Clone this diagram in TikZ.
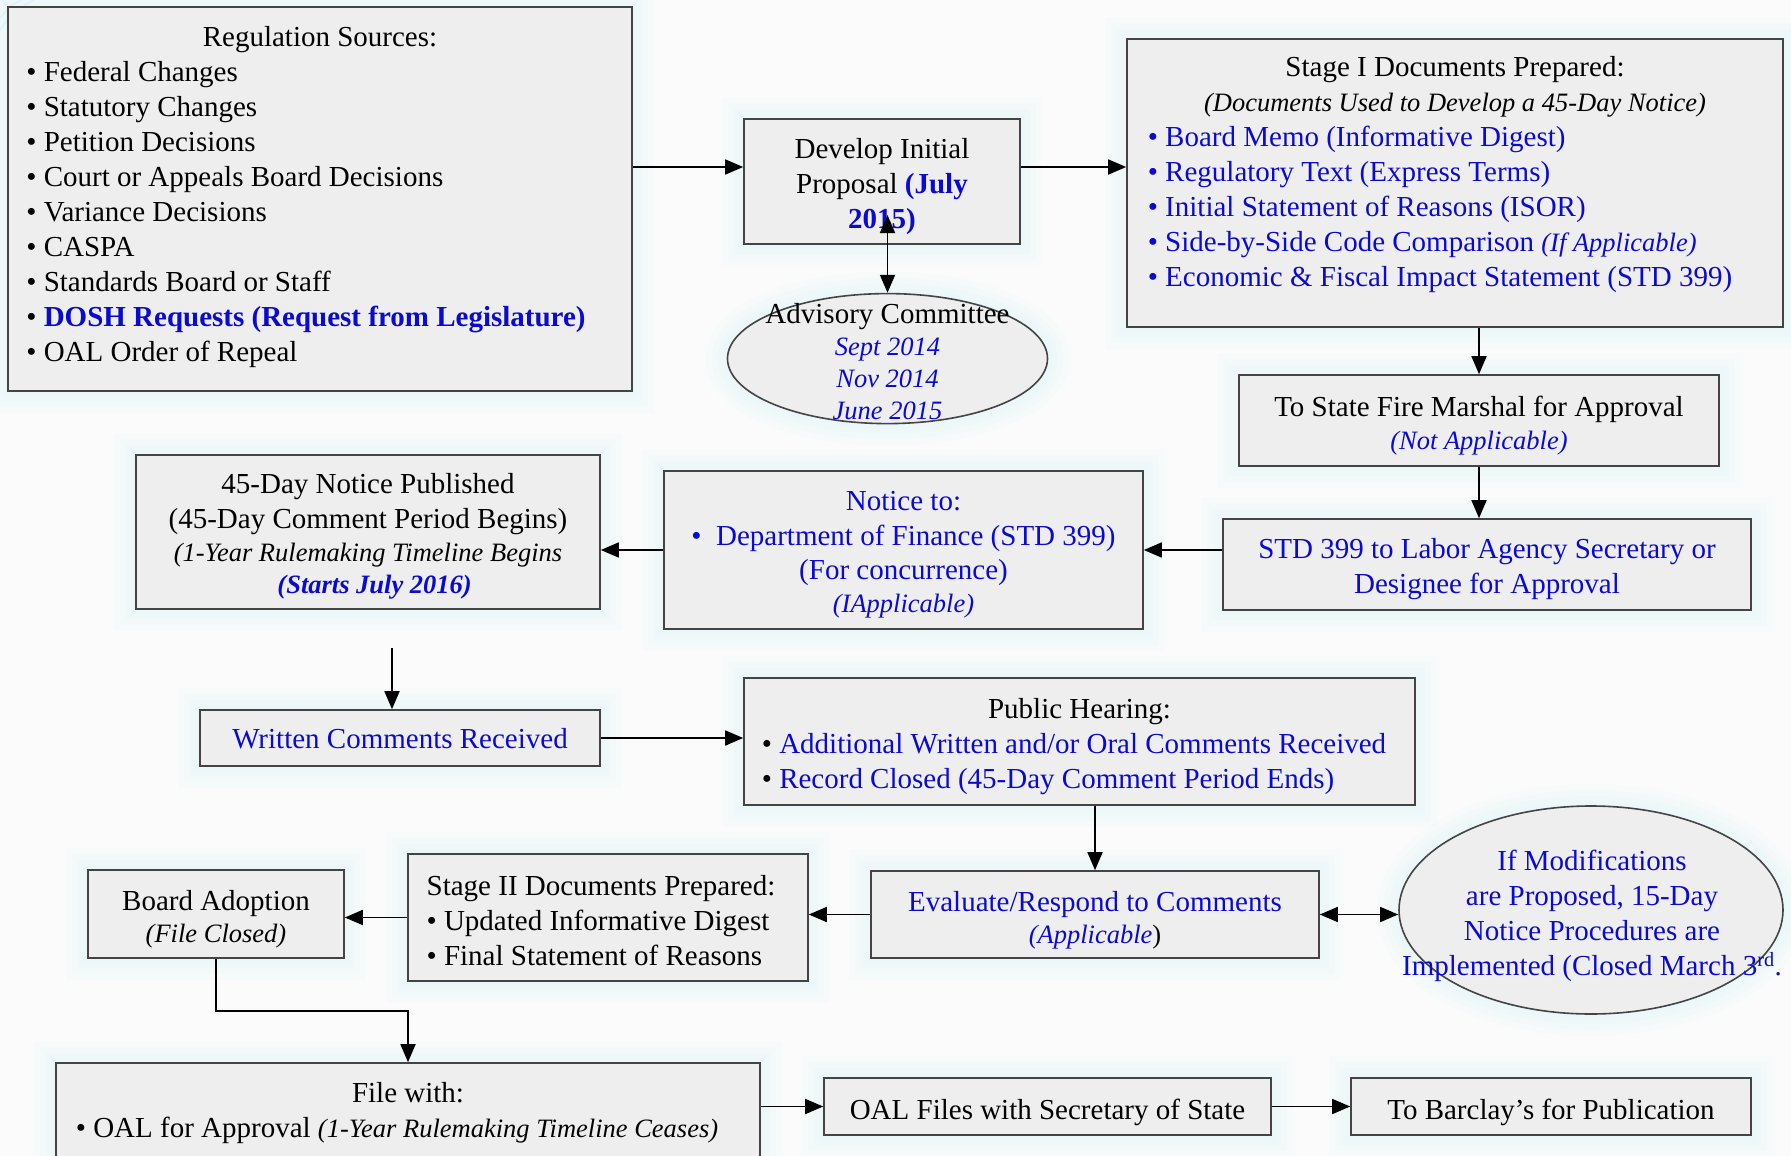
\documentclass[tikz,border=0pt]{standalone}
\usepackage{fontspec}
\setmainfont{Liberation Serif}
\usetikzlibrary{arrows.meta,shapes.geometric}
\definecolor{tblue}{RGB}{10,10,210}
\definecolor{bfill}{RGB}{238,238,238}
\definecolor{bline}{RGB}{68,68,68}
\definecolor{glowc}{RGB}{215,243,249}
\definecolor{bgc}{RGB}{251,251,251}
\newcommand\smit{\fontsize{26.5}{32}\selectfont\itshape}
\newcommand\ctr[1]{\multicolumn{1}{@{}c@{}}{#1}}
\newcommand\bul{\textbullet\ }
% centred multi-line text, pushed down by half of the optional top space
\newcommand\T[2][8pt]{\begin{tabular}{@{}c@{}}\noalign{\vskip#1}#2\end{tabular}}
\begin{document}
\begin{tikzpicture}[x=1pt,y=-1pt,
  every node/.style={font=\fontsize{29}{35}\selectfont},
  glow/.style={
    preaction={draw=glowc, draw opacity=0.10, line width=44pt},
    preaction={draw=glowc, draw opacity=0.12, line width=32pt},
    preaction={draw=glowc, draw opacity=0.14, line width=20pt},
    preaction={draw=glowc, draw opacity=0.16, line width=10pt}},
  box/.style={rectangle, draw=bline, fill=bfill, line width=1.6pt, inner sep=0pt, glow},
  oval/.style={ellipse, draw=bline, fill=bfill, line width=1.6pt, inner sep=0pt, glow},
  txt/.style={align=center, inner sep=0pt},
  arr/.style={line width=1.7pt, -{Triangle[length=18pt,width=15pt]}},
  darr/.style={line width=1.7pt, {Triangle[length=18pt,width=15pt]}-{Triangle[length=18pt,width=15pt]}}
]
\fill[bgc] (0,0) rectangle (1791,1156);
\useasboundingbox (0,0) rectangle (1791,1156);
% faint corner swoosh
\draw[glowc, line width=1.5pt] (0,30) .. controls (8,18) and (18,8) .. (34,0);
\draw[glowc, line width=1.2pt] (0,18) .. controls (6,10) and (12,4) .. (22,0);

% Regulation sources
\node[box, minimum width=624pt, minimum height=384pt] (reg) at (320,199) {%
\begin{tabular}{@{}l@{\hspace{28pt}}}
\ctr{Regulation Sources:}\\
\bul Federal Changes\\
\bul Statutory Changes\\
\bul Petition Decisions\\
\bul Court or Appeals Board Decisions\\
\bul Variance Decisions\\
\bul CASPA\\
\bul Standards Board or Staff\\
\bul \textcolor{tblue}{\textbf{DOSH Requests (Request from Legislature)}}\\
\bul OAL Order of Repeal\\[4.5pt]
\end{tabular}};

% Develop initial proposal
\node[box, minimum width=276pt, minimum height=125pt] (dip) at (882,181.5)
 {\T[9pt]{Develop Initial\\Proposal \textcolor{tblue}{\textbf{(July}}\\\textcolor{tblue}{\textbf{2015)}}}};

% Advisory committee
\node[oval, minimum width=320pt, minimum height=130pt] (adv) at (887.5,358.6) {};
\node[txt] (advt) at (887.5,362) {Advisory Committee\\[-3pt]
 {\smit\color{tblue}Sept 2014}\\[-3pt]{\smit\color{tblue}Nov 2014}\\[-3pt]{\smit\color{tblue}June 2015}};

% Stage I
\node[box, minimum width=656pt, minimum height=288pt] (s1) at (1455,183) {%
\begin{tabular}{@{}l@{\hspace{30pt}}}
\noalign{\vskip4pt}
\ctr{Stage I Documents Prepared:}\\
\ctr{\smit (Documents Used to Develop a 45-Day Notice)}\\
\textcolor{tblue}{\bul Board Memo (Informative Digest)}\\
\textcolor{tblue}{\bul Regulatory Text (Express Terms)}\\
\textcolor{tblue}{\bul Initial Statement of Reasons (ISOR)}\\
\textcolor{tblue}{\bul Side-by-Side Code Comparison {\smit (If Applicable)}}\\
\textcolor{tblue}{\bul Economic \& Fiscal Impact Statement (STD 399)}\\[21pt]
\end{tabular}};

% State Fire Marshal
\node[box, minimum width=480pt, minimum height=91pt] (sfm) at (1479,420.5)
 {\T[11pt]{To State Fire Marshal for Approval\\[-2pt]{\smit\color{tblue}(Not Applicable)}}};

% STD 399
\node[box, text=tblue, minimum width=528pt, minimum height=91pt] (std) at (1487,564.5)
 {\T[9pt]{STD 399 to Labor Agency Secretary or\\Designee for Approval}};

% Notice to
\node[box, text=tblue, minimum width=479pt, minimum height=158pt] (notice) at (903.5,550)
 {\T[9pt]{Notice to:\\\textbullet\ \ Department of Finance (STD 399)\\[-1pt](For concurrence)\\[-2pt]{\smit (IApplicable)}}};

% 45-Day notice
\node[box, minimum width=464pt, minimum height=154pt] (d45) at (368,532)
 {\T[9pt]{45-Day Notice Published\\(45-Day Comment Period Begins)\\[-2pt]{\smit (1-Year Rulemaking Timeline Begins}\\[-3pt]{\smit\bfseries\color{tblue}\ \ (Starts July 2016)}}};

% Written comments
\node[box, text=tblue, minimum width=400pt, minimum height=56pt] (wr) at (400,738)
 {\T[7pt]{Written Comments Received}};

% Public hearing
\node[box, minimum width=671pt, minimum height=127pt] (ph) at (1079.5,741.5) {%
\begin{tabular}{@{}l@{\hspace{11pt}}}
\noalign{\vskip9pt}
\ctr{Public Hearing:}\\
\bul \textcolor{tblue}{Additional Written and/or Oral Comments Received}\\
\bul \textcolor{tblue}{Record Closed (45-Day Comment Period Ends)}
\end{tabular}};

% Evaluate
\node[box, text=tblue, minimum width=448pt, minimum height=87pt] (ev) at (1095,914.5)
 {\T[11pt]{Evaluate/Respond to Comments\\[-3pt]{\smit (Applicable}{\fontsize{26.5}{32}\selectfont\color{black})}}};

% If modifications
\node[oval, minimum width=384pt, minimum height=208pt] (ifm) at (1591,910) {};
\node[txt, text=tblue] (ifmt) at (1592,915.5)
 {If Modifications\\are Proposed, 15-Day\\Notice Procedures are\\Implemented (Closed March 3\textsuperscript{rd}.};

% Stage II
\node[box, minimum width=400pt, minimum height=127pt] (s2) at (608,917.5) {%
\begin{tabular}{@{}l@{\hspace{14pt}}}
\noalign{\vskip11pt}
Stage II Documents Prepared:\\
\bul Updated Informative Digest\\
\bul Final Statement of Reasons
\end{tabular}};

% Board adoption
\node[box, minimum width=256pt, minimum height=88pt] (board) at (216,914)
 {\T[11pt]{Board Adoption\\[-3pt]{\smit (File Closed)}}};

% File with
\node[box, minimum width=704pt, minimum height=100pt] (file) at (408,1113) {%
\begin{tabular}{@{}l@{\hspace{22pt}}}
\ctr{File with:}\\
\bul OAL for Approval {\smit (1-Year Rulemaking Timeline Ceases)}
\end{tabular}};

% OAL files
\node[box, minimum width=447pt, minimum height=57pt] (oal) at (1047.5,1106.5)
 {\T[11pt]{OAL Files with Secretary of State}};

% Barclay's
\node[box, minimum width=400pt, minimum height=57pt] (bar) at (1551,1106.5)
 {\T[11pt]{To Barclay’s for Publication}};

% connectors
\coordinate (dipin) at (887.5,215);
\coordinate (w45) at (392,648);
\coordinate (bend) at (216,1011);

\draw[arr] ([yshift=14.5pt]dip.west -| reg.east) -- ([yshift=14.5pt]dip.west);
\draw[arr] ([yshift=14.5pt]dip.east) -- ([yshift=14.5pt]dip.east -| s1.west);
\draw[darr] (dipin) -- (adv.north);
\draw[arr] (s1.south -| sfm.north) -- (sfm.north);
\draw[arr] (sfm.south) -- (sfm.south |- std.north);
\draw[arr] (std.west |- notice.east) -- (notice.east);
\draw[arr] (notice.west) -- (notice.west -| d45.east);
\draw[arr] (w45) -- (w45 |- wr.north);
\draw[arr] (wr.east) -- (wr.east -| ph.west);
\draw[arr] (ev.north |- ph.south) -- (ev.north);
\draw[darr] (ev.east) -- (ev.east -| ifm.west);
\draw[arr] (ev.west) -- (ev.west -| s2.east);
\draw[arr] (s2.west) -- (s2.west -| board.east);
\draw[arr] (board.south) -- (bend) -| (file.north);
\draw[arr] (oal.west -| file.east) -- (oal.west);
\draw[arr] (oal.east) -- (oal.east -| bar.west);
\end{tikzpicture}
\end{document}
